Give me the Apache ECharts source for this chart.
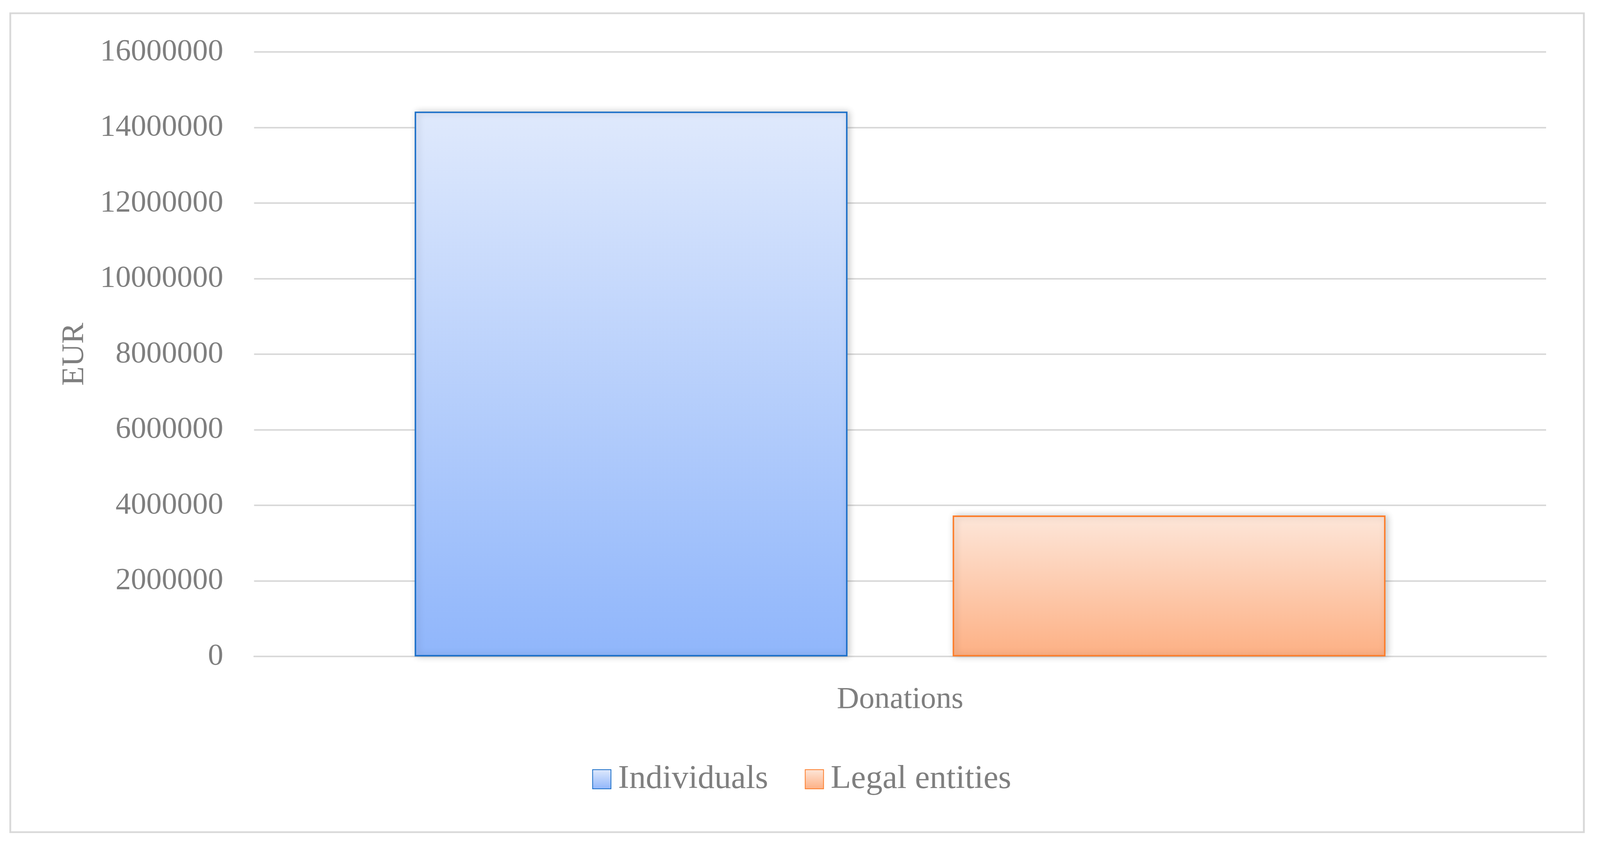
<!DOCTYPE html>
<html>
<head>
<meta charset="utf-8">
<script src="https://cdn.jsdelivr.net/npm/echarts@6/dist/echarts.min.js"></script>
<style>
html,body{margin:0;padding:0;background:#fff;overflow:hidden;}
#chart{width:100vw;height:100vh;}
</style>
</head>
<body>
<div id="chart"></div>
<script>
const categories = ['Donations'];
const seriesNames = ['Individuals', 'Legal entities'];
const individuals = [14420000];
const legalEntities = [3730000];
const yTicks = { min: 0, max: 16000000, interval: 2000000 };

const FONT = "'Palatino Linotype','Book Antiqua','Liberation Serif',serif";
const TXT = '#7f7f7f';

const W = window.innerWidth || 4364;
const H = window.innerHeight || 2169;
const sx = W / 4364, sy = H / 2169, sf = Math.min(sx, sy);
const X = v => v * sx, Y = v => v * sy, F = v => v * sf;

function grad(top, bottom) {
  return new echarts.graphic.LinearGradient(0, 0, 0, 1, [
    { offset: 0, color: top },
    { offset: 1, color: bottom }
  ]);
}

const chart = echarts.init(document.getElementById('chart'), null, { renderer: 'canvas', width: W, height: H });
chart.setOption({
  backgroundColor: '#ffffff',
  animation: false,
  graphic: [{
    type: 'rect',
    shape: { x: X(28), y: Y(34), width: X(4292), height: Y(2097) },
    style: { fill: 'none', stroke: '#d9d9d9', lineWidth: F(5) },
    silent: true,
    z: -10
  }],
  grid: { left: X(693), right: X(147), top: Y(133), bottom: Y(488), containLabel: false },
  legend: {
    data: seriesNames,
    left: X(1610),
    top: Y(1948),
    icon: 'rect',
    itemWidth: F(50),
    itemHeight: F(52),
    itemGap: X(100),
    textStyle: { fontFamily: FONT, fontSize: F(91), color: TXT, padding: [0, 0, 0, F(14)] }
  },
  xAxis: {
    type: 'category',
    data: categories,
    axisTick: { show: false },
    axisLine: { show: true, lineStyle: { color: '#d9d9d9', width: F(4) } },
    axisLabel: { fontFamily: FONT, fontSize: F(84), color: TXT, margin: Y(72) }
  },
  yAxis: {
    type: 'value',
    min: yTicks.min,
    max: yTicks.max,
    interval: yTicks.interval,
    name: 'EUR',
    nameLocation: 'middle',
    nameGap: X(446),
    nameTextStyle: { fontFamily: FONT, fontSize: F(86), color: TXT },
    axisLine: { show: false },
    axisTick: { show: false },
    axisLabel: { fontFamily: FONT, fontSize: F(84), color: TXT, margin: X(84), formatter: v => String(v) },
    splitLine: { lineStyle: { color: '#d9d9d9', width: F(4) } }
  },
  series: [
    {
      name: seriesNames[0],
      type: 'bar',
      data: individuals,
      barWidth: '33.5%',
      barGap: '24.3%',
      itemStyle: {
        color: grad('#DFE9FC', '#90B6FB'),
        borderColor: '#1B6FC8',
        borderWidth: F(4),
        shadowBlur: F(18),
        shadowColor: 'rgba(0,0,0,0.22)',
        shadowOffsetX: F(5)
      }
    },
    {
      name: seriesNames[1],
      type: 'bar',
      data: legalEntities,
      barWidth: '33.5%',
      barGap: '24.3%',
      itemStyle: {
        color: grad('#FDE6D9', '#FDB084'),
        borderColor: '#FC7E2C',
        borderWidth: F(4),
        shadowBlur: F(18),
        shadowColor: 'rgba(0,0,0,0.22)',
        shadowOffsetX: F(5)
      }
    }
  ]
});
</script>
</body>
</html>
